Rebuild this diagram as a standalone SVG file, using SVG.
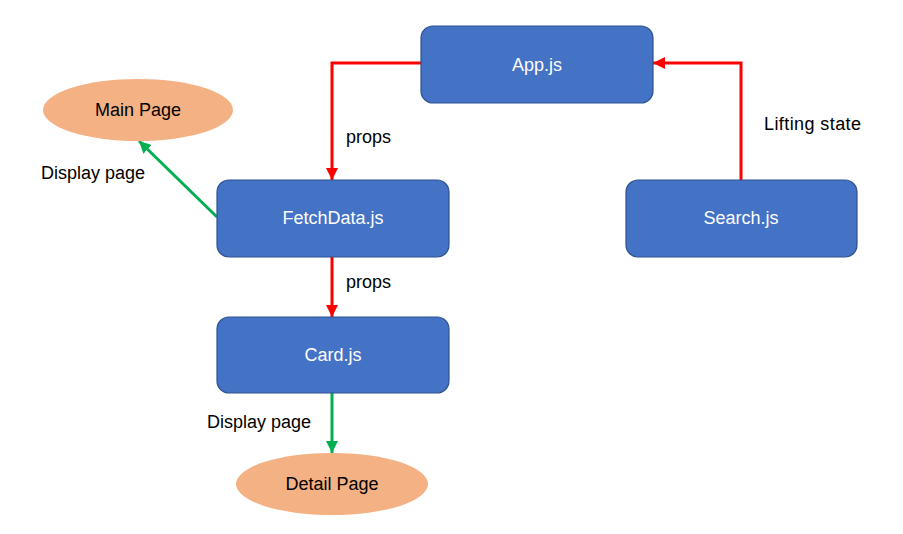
<svg xmlns="http://www.w3.org/2000/svg" width="903" height="534" viewBox="0 0 903 534">
<style>
.box{fill:#4472C4;stroke:#2F528F;stroke-width:1.2}
.ell{fill:#F4B183}
.nt{font-family:"Liberation Sans",Arial,sans-serif;font-size:18px;fill:#fff;text-anchor:middle}
.et{font-family:"Liberation Sans",Arial,sans-serif;font-size:18px;fill:#000;text-anchor:middle}
.lb{font-family:"Liberation Sans",Arial,sans-serif;font-size:18px;fill:#000}
.red{fill:none;stroke:#FF0000;stroke-width:3}
.grn{fill:none;stroke:#00B050;stroke-width:3}
</style>
<defs>
<marker id="ar" markerUnits="userSpaceOnUse" markerWidth="14" markerHeight="12" refX="12" refY="6" orient="auto"><path d="M0,0 L12,6 L0,12 Z" fill="#FF0000"/></marker>
<marker id="ag" markerUnits="userSpaceOnUse" markerWidth="14" markerHeight="12" refX="12" refY="6" orient="auto"><path d="M0,0 L12,6 L0,12 Z" fill="#00B050"/></marker>
</defs>
<rect width="903" height="534" fill="#fff"/>
<g id="connectors">
<path class="red" d="M421,63 H332 V180" marker-end="url(#ar)"/>
<path class="red" d="M332,257 V317" marker-end="url(#ar)"/>
<path class="red" d="M741,180 V63 H653" marker-end="url(#ar)"/>
<path class="grn" d="M217,217 L139,141" marker-end="url(#ag)"/>
<path class="grn" d="M332,393 V453" marker-end="url(#ag)"/>
<text class="lb" x="346" y="143">props</text>
<text class="lb" x="346" y="288">props</text>
<text class="lb" x="764" y="130" textLength="97">Lifting state</text>
<text class="lb" x="41" y="179">Display page</text>
<text class="lb" x="207" y="428">Display page</text>
</g>
<g id="app"><rect class="box" x="421" y="26" width="232" height="77" rx="12"/><text class="nt" x="537" y="71">App.js</text></g>
<g id="fetchdata"><rect class="box" x="217" y="180" width="232" height="77" rx="12"/><text class="nt" x="333" y="224">FetchData.js</text></g>
<g id="card"><rect class="box" x="217" y="317" width="232" height="76" rx="12"/><text class="nt" x="333" y="361">Card.js</text></g>
<g id="search"><rect class="box" x="626" y="180" width="231" height="77" rx="12"/><text class="nt" x="741" y="224">Search.js</text></g>
<g id="mainpage"><ellipse class="ell" cx="138" cy="110" rx="95" ry="31"/><text class="et" x="138" y="116">Main Page</text></g>
<g id="detailpage"><ellipse class="ell" cx="332" cy="484" rx="96" ry="31"/><text class="et" x="332" y="490">Detail Page</text></g>
</svg>
